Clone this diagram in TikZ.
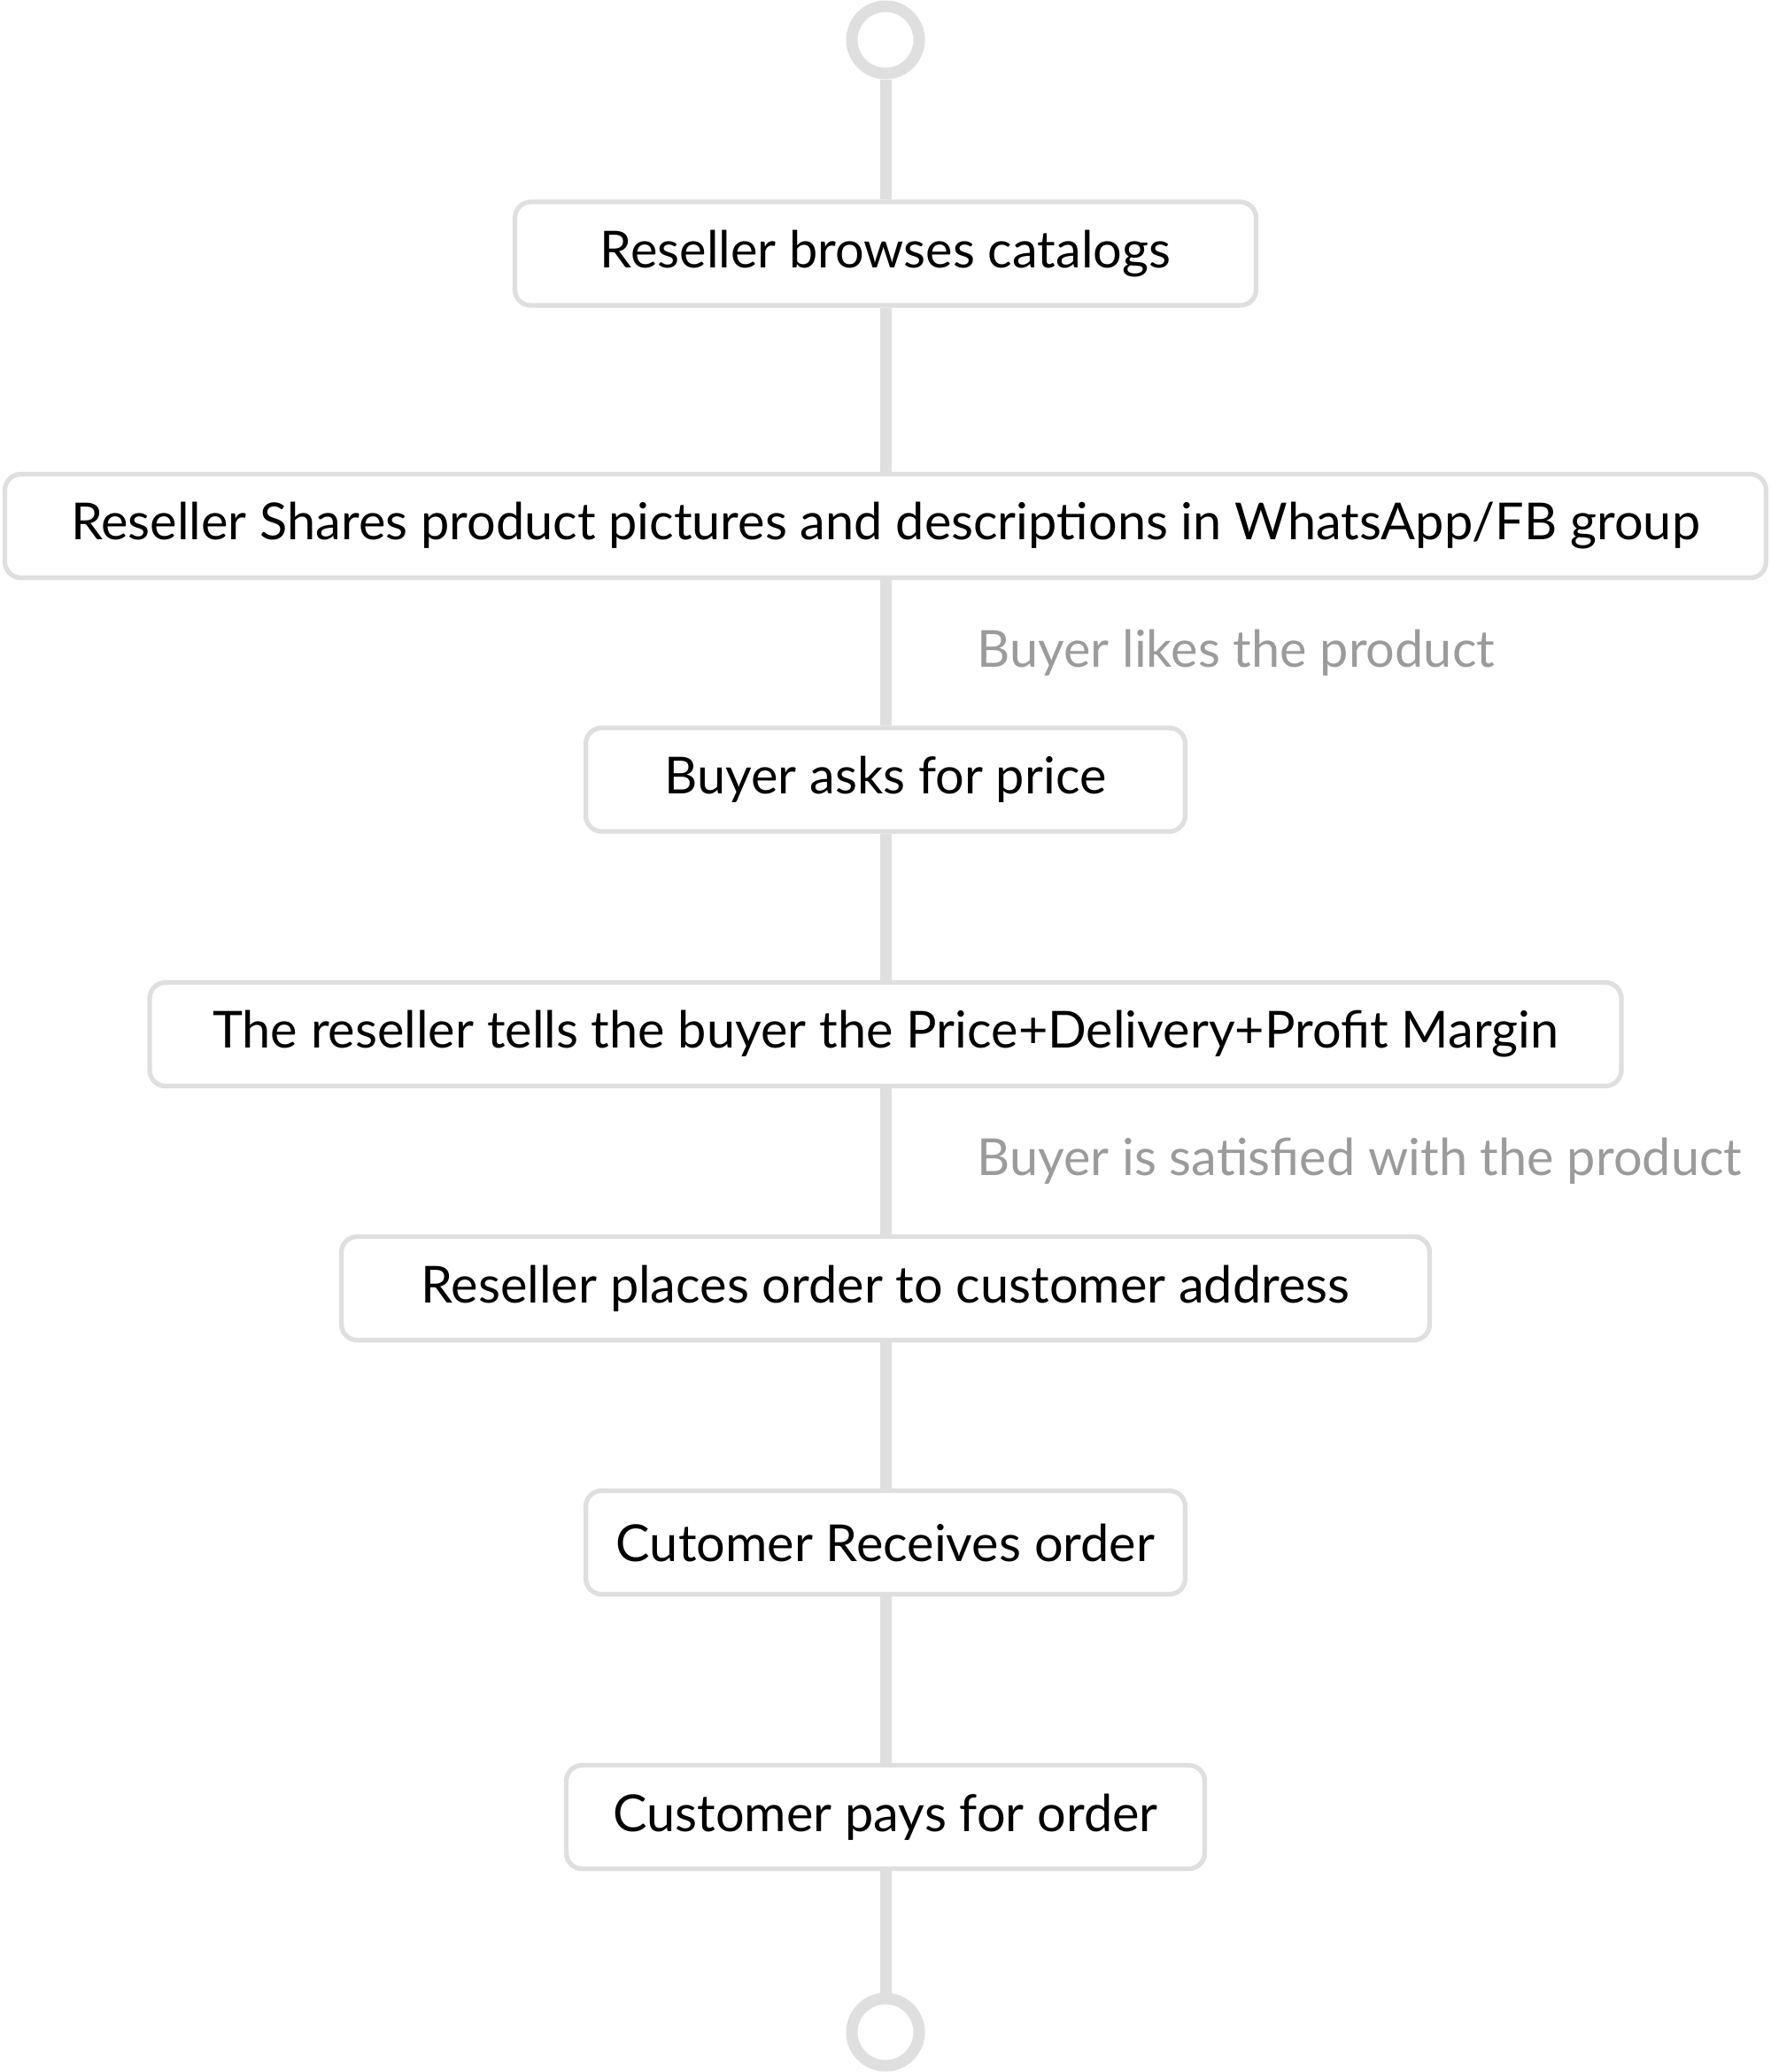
\documentclass[tikz,border=0pt]{standalone}
\usepackage{fontspec}
\setmainfont{Lato}
\usetikzlibrary{positioning}

\definecolor{linegray}{HTML}{DFDFDF}
\definecolor{notegray}{HTML}{9B9B9B}

\begin{document}
\begin{tikzpicture}[
    stepbox/.style={draw=linegray, line width=1.5pt, rounded corners=0.18cm, fill=white,
                    minimum width=#1, minimum height=1.17cm, inner sep=0pt,
                    font=\fontsize{16.4}{19}\selectfont},
    endpoint/.style={circle, draw=linegray, line width=0.13cm, fill=white,
                     minimum size=0.76cm, inner sep=0pt},
    flow/.style={draw=linegray, line width=0.13cm},
    note/.style={anchor=west, text=notegray, xshift=0.97cm, inner sep=0pt,
                 font=\fontsize{16.4}{19}\selectfont}
]

        % page size of the reference
        \useasboundingbox (0,0) rectangle (20,-23.4);

        % start and end of the flow
        \node[endpoint] (start) at (10,-0.45) {};
        \node[endpoint] (stop) at (10,-22.95) {};

        % the steps, one under the other
        \node[stepbox=8.37cm] (browse) at (10,-2.865) {Reseller browses catalogs};
        \node[stepbox=19.89cm] (share) at (10,-5.94) {Reseller Shares product pictures and descriptions in WhatsApp/FB group};
        \node[stepbox=6.77cm] (ask) at (10,-8.805) {Buyer asks for price};
        \node[stepbox=16.62cm] (tell) at (10,-11.68) {The reseller tells the buyer the Price+Delivery+Profit Margin};
        \node[stepbox=12.29cm] (place) at (10,-14.55) {Reseller places order to customer address};
        \node[stepbox=6.77cm] (receive) at (10,-17.42) {Cutomer Receives order};
        \node[stepbox=7.21cm] (pay) at (10,-20.52) {Customer pays for order};

        % connect the steps
        \draw[flow] (start) -- (browse);
        \draw[flow] (browse) -- (share);
        \draw[flow] (share) -- node[note] (likes) {Buyer likes the product} (ask);
        \draw[flow] (ask) -- (tell);
        \draw[flow] (tell) -- node[note] (satisfied) {Buyer is satisfied with the product} (place);
        \draw[flow] (place) -- (receive);
        \draw[flow] (receive) -- (pay);
        \draw[flow] (pay) -- (stop);
\end{tikzpicture}
\end{document}
